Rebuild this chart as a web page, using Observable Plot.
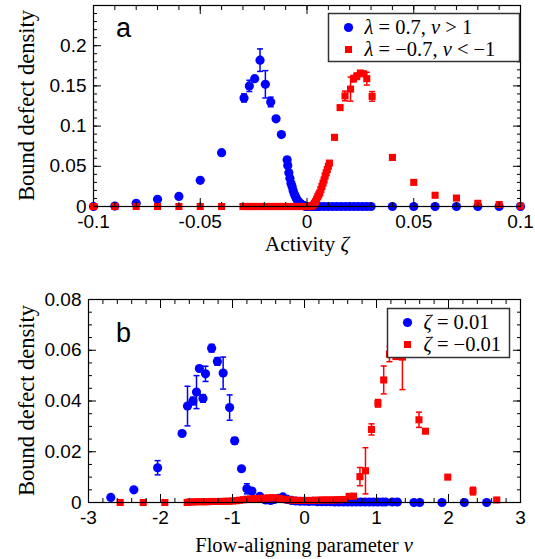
<!DOCTYPE html>
<html><head><meta charset="utf-8">
<script src="https://cdn.jsdelivr.net/npm/d3@7"></script>
<script src="https://cdn.jsdelivr.net/npm/@observablehq/plot@0.6"></script>
<style>
body{margin:0;background:#fff}
#chart{position:relative;width:535px;height:559px}
svg{display:block;overflow:visible}
</style>
</head><body><div id="chart"></div>
<script>
// ---------- Panel a: bound defect density vs activity zeta ----------
const aBlueX = [-0.1,-0.09,-0.08,-0.07,-0.06,-0.05,-0.04,-0.0295,-0.027,-0.0245,-0.022,-0.0195,-0.017,-0.0145,-0.012,-0.0093,-0.009,-0.0085,-0.008,-0.0075,-0.007,-0.0065,-0.006,-0.0055,-0.005,-0.0045,-0.004,-0.0035,-0.003,-0.0025,-0.002,-0.0015,-0.001,-0.0005,0,0.0005,0.001,0.0015,0.002,0.0025,0.003,0.004,0.005,0.006,0.008,0.01,0.012,0.014,0.016,0.018,0.02,0.022,0.024,0.026,0.028,0.03,0.04,0.05,0.06,0.07,0.08,0.09,0.1];
const aBlueY = [0,0.0005,0.004,0.009,0.0125,0.0325,0.067,0.135,0.15,0.159,0.182,0.152,0.13,0.109,0.0895,0.058,0.051,0.042,0.035,0.029,0.025,0.02,0.016,0.013,0.01,0.0078,0.006,0.0045,0.0035,0.0025,0.0015,0.001,0.0005,0.0002,0,0,0,0,0,0,0,0,0,0,0,0,0,0,0,0,0,0,0,0,0,0,0,0,0,0,0,0,0];
const aBlueErr = [0,0,0,0,0,0,0,0.005,0.007,0,0.014,0.017,0.006,0,0,0,0,0,0,0,0,0,0,0,0,0,0,0,0,0,0,0,0,0,0,0,0,0,0,0,0,0,0,0,0,0,0,0,0,0,0,0,0,0,0,0,0,0,0,0,0,0,0];

const aRedX = [-0.1,-0.09,-0.08,-0.07,-0.06,-0.05,-0.04,-0.03,-0.029,-0.028,-0.027,-0.026,-0.025,-0.024,-0.023,-0.022,-0.021,-0.02,-0.019,-0.018,-0.017,-0.016,-0.015,-0.014,-0.013,-0.012,-0.011,-0.01,-0.009,-0.008,-0.007,-0.006,-0.005,-0.004,-0.003,-0.002,-0.001,0,0.0005,0.001,0.0015,0.002,0.0025,0.003,0.0035,0.004,0.0045,0.005,0.0055,0.006,0.0065,0.007,0.0075,0.008,0.0085,0.009,0.0095,0.01,0.0105,0.0129,0.0155,0.0178,0.0204,0.0218,0.0233,0.025,0.0265,0.028,0.0305,0.04,0.05,0.06,0.07,0.08,0.09,0.1];
const aRedY = [0,0,0,0,0,0,0,0,0,0,0,0,0,0,0,0,0,0,0,0,0,0,0,0,0,0,0,0,0,0,0,0,0,0,0,0,0,0,0,0,0,0.0005,0.001,0.002,0.004,0.006,0.009,0.012,0.0145,0.017,0.021,0.025,0.029,0.033,0.038,0.042,0.046,0.05,0.054,0.086,0.123,0.1375,0.146,0.159,0.162,0.166,0.165,0.159,0.137,0.061,0.03,0.014,0.0105,0.004,0.0025,0.0005];
const aRedErr = [0,0,0,0,0,0,0,0,0,0,0,0,0,0,0,0,0,0,0,0,0,0,0,0,0,0,0,0,0,0,0,0,0,0,0,0,0,0,0,0,0,0,0,0,0,0,0,0,0,0,0,0,0,0,0,0,0,0,0,0,0,0.006,0.015,0.004,0.004,0.003,0.003,0.008,0.006,0,0,0,0,0,0,0];

const aXTicks = [-0.1,-0.05,0,0.05,0.1];
const aXTickLabels = ["-0.1","-0.05","0","0.05","0.1"];
const aYTicks = [0,0.05,0.1,0.15,0.2];
const aYTickLabels = ["0","0.05","0.1","0.15","0.2"];
const aXMinor = [-0.1,-0.09,-0.08,-0.07,-0.06,-0.05,-0.04,-0.03,-0.02,-0.01,0,0.01,0.02,0.03,0.04,0.05,0.06,0.07,0.08,0.09,0.1];
const aYMinor = [0,0.01,0.02,0.03,0.04,0.05,0.06,0.07,0.08,0.09,0.1,0.11,0.12,0.13,0.14,0.15,0.16,0.17,0.18,0.19,0.2,0.21,0.22,0.23,0.24,0.25];

// ---------- Panel b: bound defect density vs flow-aligning parameter nu ----------
const bBlueX = [-2.69,-2.37,-2.04,-1.7,-1.625,-1.55,-1.5,-1.46,-1.41,-1.375,-1.29,-1.21,-1.13,-1.04,-0.97,-0.875,-0.8,-0.73,-0.62,-0.54,-0.47,-0.42,-0.36,-0.3,-0.24,-0.18,-0.12,-0.06,0,0.06,0.12,0.18,0.24,0.3,0.36,0.42,0.48,0.54,0.6,0.66,0.72,0.78,0.84,0.9,0.96,1.02,1.08,1.125,1.22,1.29,1.52,1.6,1.91,2.22,2.53];
const bBlueY = [0.002,0.005,0.0137,0.0272,0.038,0.04,0.0435,0.0528,0.041,0.0507,0.0608,0.0556,0.051,0.0374,0.0243,0.0133,0.0054,0.0045,0.0024,0.001,0.0008,0.0012,0.0016,0.0022,0.0012,0.0008,0.0006,0.0005,0.0005,0.0004,0.0005,0.0003,0.0003,0.0003,0.0003,0.0002,0.0002,0.0002,0.0002,0.0002,0.0002,0.0002,0.0002,0.0002,0.0002,0.0002,0.0002,0.0002,0.0002,0.0002,0,0,0,0,0];
const bBlueErr = [0,0,0.0028,0.001,0.0078,0.0015,0.0065,0.001,0.0015,0.003,0.0015,0.0015,0.0063,0.005,0.0013,0,0.002,0.0005,0,0,0,0,0,0,0,0,0,0,0,0,0,0,0,0,0,0,0,0,0,0,0,0,0,0,0,0,0,0,0,0,0,0,0,0,0];

const bRedX = [-2.56,-2.24,-1.94,-1.63,-1.6,-1.55,-1.5,-1.45,-1.4,-1.35,-1.3,-1.25,-1.2,-1.15,-1.1,-1.05,-1,-0.95,-0.9,-0.85,-0.8,-0.75,-0.7,-0.65,-0.6,-0.55,-0.5,-0.45,-0.4,-0.35,-0.3,-0.25,-0.2,-0.15,-0.1,-0.05,0,0.05,0.1,0.15,0.2,0.25,0.3,0.35,0.4,0.45,0.5,0.55,0.62,0.68,0.77,0.847,0.93,1.02,1.1,1.18,1.27,1.36,1.59,1.68,1.99,2.34,2.67];
const bRedY = [0,0,0,0,0.0002,0.0002,0.0003,0.0003,0.0003,0.0003,0.0004,0.0004,0.0004,0.0004,0.0005,0.0005,0.0006,0.0007,0.0009,0.0011,0.0013,0.0014,0.0015,0.0016,0.0016,0.0017,0.0018,0.0019,0.0018,0.0016,0.0013,0.0011,0.001,0.0009,0.0008,0.0008,0.0008,0.0008,0.0008,0.0009,0.0009,0.001,0.001,0.001,0.001,0.0011,0.0011,0.0012,0.0024,0.0025,0.0102,0.0125,0.0288,0.0391,0.0483,0.0585,0.0575,0.0573,0.0326,0.0281,0.01,0.0045,0.001];
const bRedErr = [0,0,0,0,0,0,0,0,0,0,0,0,0,0,0,0,0,0,0,0,0,0,0,0,0,0,0,0,0,0,0,0,0,0,0,0,0,0,0,0,0,0,0,0,0,0,0,0,0,0,0.0036,0.0091,0.0022,0.0015,0.0055,0.003,0,0.0128,0.003,0,0,0.0015,0];

const bXTicks = [-3,-2,-1,0,1,2,3];
const bXTickLabels = ["-3","-2","-1","0","1","2","3"];
const bYTicks = [0,0.02,0.04,0.06,0.08];
const bYTickLabels = ["0","0.02","0.04","0.06","0.08"];
const bXMinor = [-3,-2.8,-2.6,-2.4,-2.2,-2,-1.8,-1.6,-1.4,-1.2,-1,-0.8,-0.6,-0.4,-0.2,0,0.2,0.4,0.6,0.8,1,1.2,1.4,1.6,1.8,2,2.2,2.4,2.6,2.8,3];
const bYMinor = [0,0.005,0.01,0.015,0.02,0.025,0.03,0.035,0.04,0.045,0.05,0.055,0.06,0.065,0.07,0.075,0.08];

const BLUE = "#0000ff", RED = "#ff0000";
const SANS = "'Liberation Sans', Arial, sans-serif";
const SERIF = "'Liberation Serif', 'Times New Roman', serif";

const rows = (X, Y, E) => X.map((x, i) => ({x, y: Y[i], e: E[i]}));
const capSymbol = {draw(ctx) { ctx.moveTo(-3, 0); ctx.lineTo(3, 0); }};

function errMarks(data, color) {
  const d = data.filter(r => r.e > 0);
  return [
    Plot.ruleX(d, {x: "x", y1: r => r.y - r.e, y2: r => r.y + r.e, stroke: color, strokeWidth: 1.5}),
    Plot.dot(d, {x: "x", y: r => r.y + r.e, symbol: capSymbol, stroke: color, strokeWidth: 1.5}),
    Plot.dot(d, {x: "x", y: r => r.y - r.e, symbol: capSymbol, stroke: color, strokeWidth: 1.5})
  ];
}

function axes(xMajor, xLabels, yMajor, yLabels, xMinor, yMinor) {
  const xl = new Map(xMajor.map((t, i) => [t, xLabels[i]]));
  const yl = new Map(yMajor.map((t, i) => [t, yLabels[i]]));
  const blank = () => "";
  const o = {label: null, tickFormat: blank};
  return [
    Plot.axisX({...o, anchor: "bottom", ticks: xMinor, tickSize: -4}),
    Plot.axisX({...o, anchor: "top", ticks: xMinor, tickSize: -4}),
    Plot.axisY({...o, anchor: "left", ticks: yMinor, tickSize: -4}),
    Plot.axisY({...o, anchor: "right", ticks: yMinor, tickSize: -4}),
    Plot.axisX({...o, anchor: "bottom", ticks: xMajor, tickSize: -8}),
    Plot.axisX({...o, anchor: "top", ticks: xMajor, tickSize: -8}),
    Plot.axisY({...o, anchor: "left", ticks: yMajor, tickSize: -8}),
    Plot.axisY({...o, anchor: "right", ticks: yMajor, tickSize: -8}),
    Plot.axisX({anchor: "bottom", label: null, ticks: xMajor, tickSize: 0, tickPadding: 8, tickFormat: d => xl.get(d), fontSize: 19, fontFamily: SANS, fill: "#000"}),
    Plot.axisY({anchor: "left", label: null, ticks: yMajor, tickSize: 0, tickPadding: 7, tickFormat: d => yl.get(d), fontSize: 19, fontFamily: SANS, fill: "#000"}),
    Plot.frame({stroke: "#000", strokeWidth: 1.2})
  ];
}

const aBlue = rows(aBlueX, aBlueY, aBlueErr), aRed = rows(aRedX, aRedY, aRedErr);
const bBlue = rows(bBlueX, bBlueY, bBlueErr), bRed = rows(bRedX, bRedY, bRedErr);

const plotA = Plot.plot({
  width: 535, height: 270, marginLeft: 93, marginRight: 15, marginTop: 5, marginBottom: 64,
  style: {background: "transparent", overflow: "visible"},
  x: {domain: [-0.1, 0.1], axis: null},
  y: {domain: [0, 0.25], axis: null},
  marks: [
    ...errMarks(aBlue, BLUE),
    Plot.dot(aBlue, {x: "x", y: "y", r: 4.6, fill: BLUE}),
    ...errMarks(aRed, RED),
    Plot.dot(aRed, {x: "x", y: "y", r: 4, symbol: "square", fill: RED}),
    ...axes(aXTicks, aXTickLabels, aYTicks, aYTickLabels, aXMinor, aYMinor)
  ]
});

const plotB = Plot.plot({
  width: 535, height: 289, marginLeft: 88, marginRight: 15, marginTop: 29, marginBottom: 57,
  style: {background: "transparent", overflow: "visible"},
  x: {domain: [-3, 3], axis: null},
  y: {domain: [0, 0.08], axis: null},
  marks: [
    ...errMarks(bBlue, BLUE),
    Plot.dot(bBlue, {x: "x", y: "y", r: 4.6, fill: BLUE}),
    ...errMarks(bRed, RED),
    Plot.dot(bRed, {x: "x", y: "y", r: 4, symbol: "square", fill: RED}),
    ...axes(bXTicks, bXTickLabels, bYTicks, bYTickLabels, bXMinor, bYMinor)
  ]
});

const host = document.getElementById("chart");
host.append(plotA, plotB);

function mathText(g, x, y, parts, size, anchor) {
  const t = g.append("text").attr("x", x).attr("y", y).attr("font-family", SERIF)
    .attr("font-size", size).attr("fill", "#000").attr("text-anchor", anchor || "start");
  parts.forEach(([s, it]) => t.append("tspan").attr("font-style", it ? "italic" : "normal").text(s));
  return t;
}

function legend(svg, x, y, w, h, entries) {
  const g = d3.select(svg).append("g");
  g.append("rect").attr("x", x).attr("y", y).attr("width", w).attr("height", h)
    .attr("fill", "#fff").attr("stroke", "#333").attr("stroke-width", 1.5);
  entries.forEach((en, i) => {
    const cy = y + 14 + i * 22;
    const mx = x + 20;
    if (en.shape === "circle") g.append("circle").attr("cx", mx).attr("cy", cy).attr("r", 4.6).attr("fill", en.color);
    else g.append("rect").attr("x", mx - 3.5).attr("y", cy - 3.5).attr("width", 7).attr("height", 7).attr("fill", en.color);
    mathText(g, x + 36, cy + 6.5, en.parts, 20.5, "start");
  });
}

legend(plotA, 328.5, 13.5, 191, 48, [
  {shape: "circle", color: BLUE, parts: [["λ", true], [" = 0.7, ", false], ["ν", true], [" > 1", false]]},
  {shape: "square", color: RED, parts: [["λ", true], [" = −0.7, ", false], ["ν", true], [" < −1", false]]}
]);
legend(plotB, 387.5, 38.5, 122, 49, [
  {shape: "circle", color: BLUE, parts: [["ζ", true], [" = 0.01", false]]},
  {shape: "square", color: RED, parts: [["ζ", true], [" = −0.01", false]]}
]);

function yTitle(svg, cy) {
  d3.select(svg).append("text").attr("transform", `translate(34,${cy}) rotate(-90)`)
    .attr("text-anchor", "middle").attr("font-family", SERIF).attr("font-size", 22.5).attr("fill", "#000")
    .text("Bound defect density");
}

const ga = d3.select(plotA);
ga.append("text").attr("x", 116).attr("y", 37).attr("text-anchor", "start").attr("font-family", SANS).attr("font-size", 27).text("a");
mathText(ga, 307, 251, [["Activity ", false], ["ζ", true]], 21.5, "middle");
yTitle(plotA, 105.5);
const gb = d3.select(plotB);
gb.append("text").attr("x", 116).attr("y", 72).attr("text-anchor", "start").attr("font-family", SANS).attr("font-size", 27).text("b");
mathText(gb, 304, 282, [["Flow-aligning parameter ", false], ["ν", true]], 20.5, "middle");
yTitle(plotB, 130.5);
</script>
</body></html>
